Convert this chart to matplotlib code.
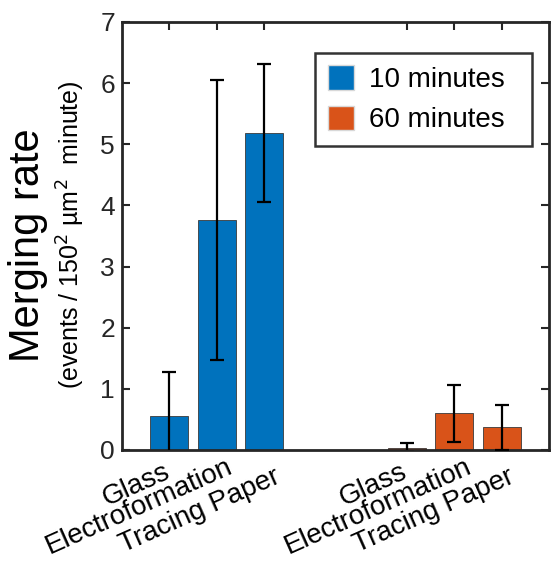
import matplotlib
matplotlib.use("Agg")
import matplotlib.pyplot as plt
from matplotlib.patches import Patch
from matplotlib.transforms import ScaledTranslation

plt.rcParams['font.family'] = ['Liberation Sans', 'DejaVu Sans']

categories = ["Glass", "Electroformation", "Tracing Paper"]
series_names = ["10 minutes", "60 minutes"]
rate_10 = [0.56, 3.76, 5.19]
err_10 = [0.72, 2.29, 1.13]
rate_60 = [0.04, 0.60, 0.37]
err_60 = [0.07, 0.47, 0.37]
colors = ["#0072BD", "#D95319"]

x10 = [1, 2, 3]
x60 = [6, 7, 8]

fig = plt.figure(figsize=(5.51, 5.61), dpi=100)
ax = fig.add_axes([0.2214, 0.1979, 0.775, 0.7629])

for xs, vals, errs, c in [(x10, rate_10, err_10, colors[0]),
                          (x60, rate_60, err_60, colors[1])]:
    ax.bar(xs, vals, width=0.8, color=c, edgecolor="#3a3a3a", linewidth=0.6, zorder=2)
    ax.errorbar(xs, vals, yerr=errs, fmt="none", ecolor="black",
                elinewidth=1.6, capsize=5, capthick=1.6, zorder=3)

ax.set_xlim(0, 9)
ax.set_ylim(0, 7)
ax.set_yticks(range(0, 8))
ax.set_xticks(x10 + x60)
ax.set_xticklabels(categories + categories, rotation=24, ha="right",
                   va="top", rotation_mode="anchor", fontsize=20)
ax.tick_params(axis="y", labelsize=19, direction="in", length=6, width=1.5,
               right=True, pad=5, colors="#262626", labelcolor="#262626")
ax.tick_params(axis="x", direction="in", length=6, width=1.5, top=True,
               pad=5, colors="#262626", labelcolor="black")
for sp in ax.spines.values():
    sp.set_linewidth(2)
    sp.set_color("#262626")

# stagger the rotated category labels (offsets in pixels)
label_shift = [(-6, -2), (9, 3), (9, -7), (-6, -2), (11, 3), (6, -7)]
for lab, (dx, dy) in zip(ax.get_xticklabels(), label_shift):
    lab.set_transform(lab.get_transform() +
                      ScaledTranslation(dx / 100, dy / 100, fig.dpi_scale_trans))

handles = [Patch(facecolor=colors[0], edgecolor="#d8d8d8"),
           Patch(facecolor=colors[1], edgecolor="#d8d8d8")]
leg = ax.legend(handles, series_names, loc="upper left", mode="expand",
                bbox_to_anchor=(0.452, 0.5, 0.508, 0.4276),
                fontsize=20, frameon=True, fancybox=False, edgecolor="black",
                handlelength=0.94, handleheight=0.97, handletextpad=0.55,
                borderpad=0.45, labelspacing=0.45, borderaxespad=0)
leg.get_frame().set_linewidth(1.8)

fig.text(0.05, 0.563, "Merging rate", rotation=90, fontsize=30,
         ha="center", va="center")
fig.text(0.129, 0.581, "(events / 150$^2$ µm$^2$  minute)", rotation=90,
         fontsize=18, ha="center", va="center")

fig.savefig("out.png", dpi=100)
